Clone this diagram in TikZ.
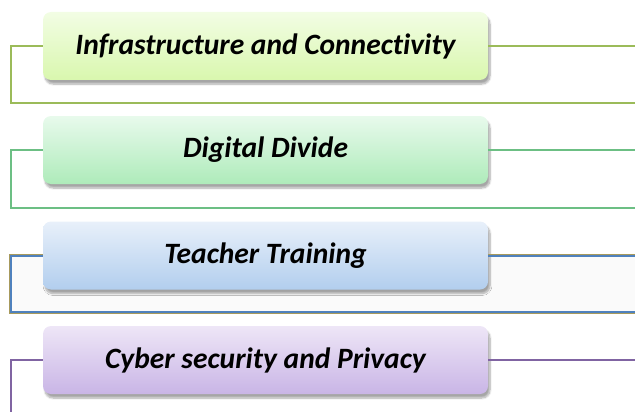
\documentclass[tikz,border=0pt]{standalone}
\usepackage{fontspec}
\setmainfont{Carlito}[Ligatures={NoCommon,NoRare}]
\usetikzlibrary{shadows.blur}
\definecolor{gline}{HTML}{9BBB59}
\definecolor{gtop}{HTML}{F2FDE4}
\definecolor{gbot}{HTML}{D9F7AE}
\definecolor{mline}{HTML}{6CBF84}
\definecolor{mtop}{HTML}{E8FAEC}
\definecolor{mbot}{HTML}{AEEBBA}
\definecolor{bline}{HTML}{4F81BD}
\definecolor{bedge}{HTML}{A89A5C}
\definecolor{btop}{HTML}{E8F0FA}
\definecolor{bbot}{HTML}{B2CEEE}
\definecolor{pline}{HTML}{8064A2}
\definecolor{ptop}{HTML}{EEE6F7}
\definecolor{pbot}{HTML}{C9B5E6}
\tikzset{
  topic/.style={rounded corners=8pt, minimum width=445pt, minimum height=68pt,
    font=\fontsize{29.5}{34}\selectfont\bfseries\itshape, text=black,
    blur shadow={shadow xshift=2pt, shadow yshift=-4pt, shadow blur steps=8, shadow opacity=35}},
  link/.style={line width=1.6pt},
  rim/.style={line width=0.8pt, bedge},
  blink/.style={line width=2pt, bline}
}
\begin{document}
\begin{tikzpicture}[x=1pt,y=-1pt]
\useasboundingbox (0,0) rectangle (635,412);
% background band behind the third branch
\fill[black!2] (11,255.5) rectangle (635,312);
% branch lines
\draw[link, gline] (43,46) -- (11,46) -- (11,103) -- (635,103);
\draw[link, mline] (43,150) -- (11,150) -- (11,208) -- (635,208);
\draw[rim] (43,254.7) -- (9.8,254.7) -- (9.8,313.2) -- (635,313.2);
\draw[blink] (43,255.5) -- (11,255.5) -- (11,312) -- (635,312);
\draw[link, pline] (43,360) -- (11,360) -- (11,412);
% topic boxes
\node[topic, top color=gtop, bottom color=gbot] (n1) at (265.5,46) {Infrastructure and Connectivity};
\node[topic, top color=mtop, bottom color=mbot] (n2) at (265.5,150) {Digital Divide};
\node[topic, top color=btop, bottom color=bbot] (n3) at (265.5,255.5) {Teacher Training};
\node[topic, top color=ptop, bottom color=pbot] (n4) at (265.5,360) {Cyber security and Privacy};
% right-hand leaders
\coordinate (e1) at (635,46);
\coordinate (e2) at (635,150);
\coordinate (e3) at (635,255.5);
\coordinate (e4) at (635,360);
\draw[link, gline] (n1.east) -- (e1);
\draw[link, mline] (n2.east) -- (e2);
\draw[rim] ([yshift=0.8pt]n3.east) -- ([yshift=0.8pt]e3);
\draw[blink] (n3.east) -- (e3);
\draw[link, pline] (n4.east) -- (e4);
\end{tikzpicture}
\end{document}
